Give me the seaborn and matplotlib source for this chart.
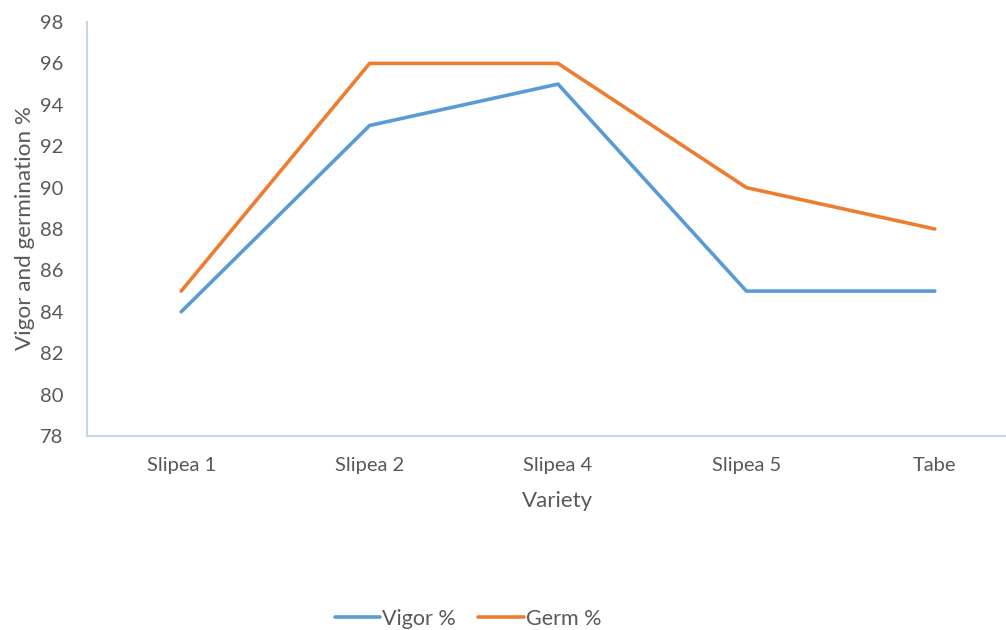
import matplotlib
matplotlib.use("Agg")
import matplotlib.pyplot as plt
import seaborn as sns
import pandas as pd

varieties = ["Slipea 1", "Slipea 2", "Slipea 4", "Slipea 5", "Tabe"]
vigor = [84, 93, 95, 85, 85]
germ = [85, 96, 96, 90, 88]
series_names = ["Vigor %", "Germ %"]
y_ticks = [78, 80, 82, 84, 86, 88, 90, 92, 94, 96, 98]

df = pd.DataFrame({
    "Variety": varieties * 2,
    "Value": vigor + germ,
    "Series": [series_names[0]] * len(varieties) + [series_names[1]] * len(varieties),
})

sns.set_theme(style="white")
plt.rcParams["font.family"] = ["Lato", "DejaVu Sans"]

text_color = "#595959"
axis_color = "#C9D6E3"

fig = plt.figure(figsize=(10.06, 6.3), dpi=100)
ax = fig.add_axes([87 / 1006, 1 - 436 / 630, (1029 - 87) / 1006, (436 - 22) / 630])

sns.lineplot(
    data=df, x="Variety", y="Value", hue="Series", sort=False,
    palette={"Vigor %": "#5B9BD5", "Germ %": "#ED7D31"},
    linewidth=2.6, ax=ax, legend=True,
)

ax.set_xlim(-0.5, len(varieties) - 0.5)
ax.set_ylim(78, 98)
ax.set_yticks(y_ticks)
ax.set_yticklabels([str(t) for t in y_ticks])
ax.tick_params(axis="both", length=0, colors=text_color)
ax.tick_params(axis="x", labelsize=14.5, pad=15)
ax.tick_params(axis="y", labelsize=14.5, pad=17)

for side in ["top", "right"]:
    ax.spines[side].set_visible(False)
for side in ["left", "bottom"]:
    ax.spines[side].set_color(axis_color)
    ax.spines[side].set_linewidth(1.5)

ax.set_xlabel("Variety", fontsize=16, color=text_color)
ax.set_ylabel("Vigor and germination %", fontsize=16.2, color=text_color)
ax.xaxis.set_label_coords((557 - 87) / 942, (436 - 491) / 414)
ax.yaxis.set_label_coords((35 - 87) / 942, (436 - 228) / 414)

handles, labels = ax.get_legend_handles_labels()
ax.legend_.remove()
fig.legend(
    handles, labels, loc="center", bbox_to_anchor=(468 / 1006, 1 - 619 / 630),
    ncol=2, frameon=False, fontsize=15.5, handlelength=2.1, handletextpad=0.1,
    columnspacing=1.05, labelcolor=text_color,
)

fig.savefig("out.png", dpi=100)
